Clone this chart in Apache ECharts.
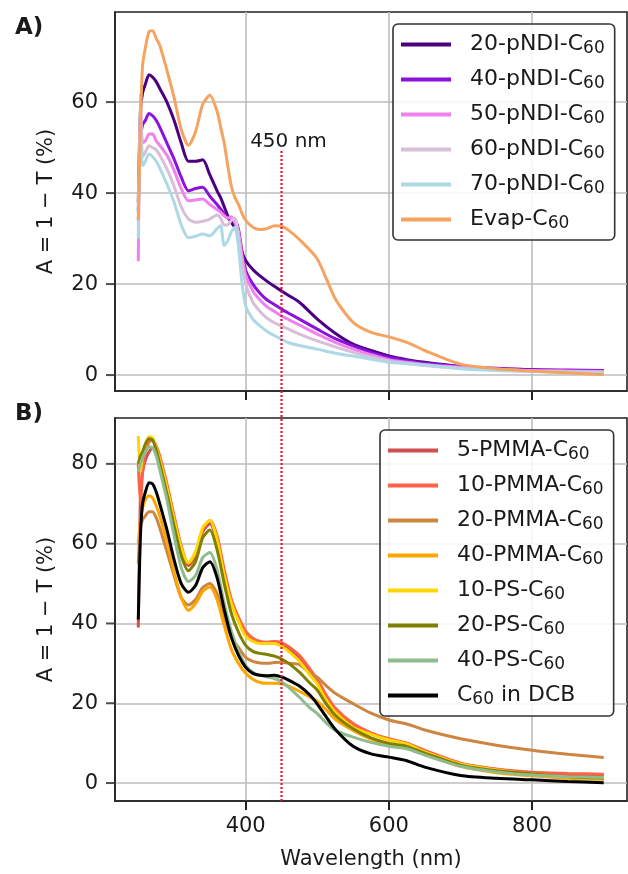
<!DOCTYPE html>
<html>
<head>
<meta charset="utf-8">
<script src="https://cdn.jsdelivr.net/npm/echarts@6/dist/echarts.min.js"></script>
<style>html,body{margin:0;padding:0;background:#fff}#chart{width:628px;height:874px}</style>
</head>
<body>
<div id="chart"></div>
<script>
(function() {
  // wavelengths (nm)
  var wlA = [250,253,256,260,265,270,275,280,290,300,310,320,330,340,350,360,365,370,375,380,385,390,395,400,410,420,430,440,450,460,475,500,525,550,575,600,625,650,700,750,800,850,900];
  var wlB = [250,253,256,260,265,270,275,280,290,300,310,320,330,340,350,360,370,380,390,400,410,420,430,440,450,460,475,490,500,510,525,550,575,600,625,650,700,750,800,850,900];

  // panel A: A = 1 - T (%)
  var pndi20 = [38,58,62,64,66,65.5,64.5,63, 60,56,51,47,47,47.3,44,40.5, 39,37,35,33.5,32.5,30.5,27,25.2, 23.2,21.8,20.6,19.5,18.5,17.5,16, 12.3,9.2,6.8,5.4,4.2,3.4,2.8, 1.9,1.4,1.1,1.0,0.95];
  var pndi40 = [36,52,55,56,57.5,57,56,54.5, 51,47.5,43.5,40.5,41,41.3,39.3,37.5, 36.5,35.5,34.5,34,34,32,27,23, 20,18,16.5,15.5,14.5,13.6,12.3, 10.1,8,6.4,5,3.9,3.2,2.6, 1.9,1.5,1.2,1.1,1.0];
  var pndi50 = [25,60,51,51.5,53,53,51.5,50.5, 48.3,45,41,38.3,38.5,38.7,37.5,36.4, 35.8,35,34.5,34.8,33.5,31.5,26,22, 18.5,16.5,15,14,13,12.2,11, 9,7.2,5.7,4.5,3.4,2.8,2.3, 1.7,1.3,1.0,0.9,0.8];
  var pndi60 = [33,62,48,49,50.4,50,49.5,48.3, 45.3,41.5,37,34.3,33.6,33.8,34.3,35.2, 34.5,33,33,34,34.5,30.5,24.5,20, 16,14,12.5,11.5,10.8,10.1,9, 7.5,6.2,5,4,3.1,2.6,2.1, 1.5,1.1,0.9,0.8,0.7];
  var pndi70 = [30,54,46,47,48.6,48,47,45.5, 42,38,33,30.2,30.5,31,30.6,32.2, 32.8,28.5,29.5,31.5,32.5,28,20,15.2, 12.3,10.8,9.6,8.7,7.9,7.1,6.5, 5.7,4.8,4.2,3.5,2.8,2.5,2.2, 1.4,1.0,0.8,0.6,0.5];
  var evap = [34,55,68,72,75.5,75.7,74,72.5, 67,61,54,50.5,53.5,59.5,61.5,58, 54.5,51,46,41.5,39,37.5,35.5,34, 32.5,32,32.2,32.8,32.7,31.8,29.8, 25.5,16.8,11.6,9.4,8.4,7.2,5.4, 2.4,1.4,0.9,0.5,0.1];

  // panel B
  var pmma5 = [39,72,78,81,83,84,83,80.5, 74,66,58.5,54.5,57,63,65,61, 52.5,45.5,41,37.5,35.8,35.2,35,35, 34.8,33.8,31.5,28,25.5,22.3,18.4, 14.6,12.4,10.9,9.9,8, 4.9,3.4,2.6,2.2,2.0];
  var pmma10 = [80,70,78,83,85.5,86,84.5,82, 75,67,59.5,55,57.5,63.5,65.8,62, 53.5,46,41.5,38,36.3,35.5,35.3,35.5, 35.2,34.2,32,28.5,26,22.8,18.8, 14.9,12.6,11.1,10,8.2, 5,3.5,2.7,2.4,2.2];
  var pmma20 = [55,64,66,67,68,68,66.5,64, 58,52,46.5,44.6,46,49,50,47.5, 41.5,36.5,34,31.5,30.5,30.1,30,30.2, 30.3,30,29.7,27.5,26.5,24.8,22.5, 19.9,17.5,15.8,14.8,13.3, 11.1,9.5,8.2,7.2,6.4];
  var pmma40 = [60,66,69,71,72,71.5,69.5,67, 60.5,53,46.5,43.3,45,48,49.2,46, 39.5,33.5,30,27.5,26,25.2,25,25, 24.9,24.3,23,21.5,20.5,18.8,16, 13.2,11,9.5,8.8,7.2, 4.2,2.6,1.8,1.2,0.9];
  var ps10 = [87,78,82,85,86.8,86.5,84,81, 74,66,59,55.2,58,64,65.8,61, 52,45,40.5,36.8,35.5,35,35,35, 34.3,33,30.5,27,24.8,21.5,17.8, 14,12.2,10.8,9.8,7.8, 4.8,3.3,2.3,1.5,1.0];
  var ps20 = [80,82,83,85,86.3,86,83.5,80, 72.5,64.5,57,53.2,55.5,61.5,63.4,58.5, 50,42.5,37.8,34.5,33,32.5,32.2,31.8, 31.1,30,27.8,25,23.3,20.5,17, 13.6,11.3,9.9,9.2,7.5, 4.5,3.1,2.3,1.6,1.2];
  var ps40 = [78,80,81.5,83,84.3,84,82,78.5, 71,62,54,50.5,52,56.5,57.8,53.5, 45,38,33,29.5,27.8,27,26.6,26.2, 25.4,24,21.5,18.8,17.4,15.5,13.2, 11.5,10.2,9.2,8.6,7, 4.2,2.8,2.0,1.6,1.4];
  var dcb = [41,62,70,73,75.3,75,73,70, 63.5,56,50,47.8,49.5,54,55.5,51.5, 43.5,36.5,32,29,27.5,27,26.9,27, 26.6,25.8,24.3,22,19.8,17.2,13.5, 9.2,7.3,6.5,5.6,4, 1.9,1.2,0.8,0.4,0.1];

  var xTicks = [400, 600, 800];
  var yTicksA = [0, 20, 40, 60];
  var yTicksB = [0, 20, 40, 60, 80];
  var markWl = 450;
  var xMin = 217.5, xMax = 932.5;

  var namesA = ["20-pNDI-C60", "40-pNDI-C60", "50-pNDI-C60", "60-pNDI-C60", "70-pNDI-C60", "Evap-C60"];
  var namesB = ["5-PMMA-C60", "10-PMMA-C60", "20-PMMA-C60", "40-PMMA-C60", "10-PS-C60", "20-PS-C60", "40-PS-C60", "C60 in DCB"];
  var colorsA = ["#4b0082", "#8a12dc", "#ee82ee", "#d8bfd8", "#add8e6", "#f4a460"];
  var colorsB = ["#cd4f4f", "#ff6347", "#cd853f", "#ffa500", "#ffd700", "#808000", "#8fbc8f", "#000000"];
  var dataA = [pndi20, pndi40, pndi50, pndi60, pndi70, evap];
  var dataB = [pmma5, pmma10, pmma20, pmma40, ps10, ps20, ps40, dcb];

  var font = "DejaVu Sans";
  var txt = "#1a1a1a";
  var yName = "A = 1 \u2212 T (%)";

  var myChart = echarts.init(document.getElementById("chart"));

  function mk(name, color, wl, vals, gi) {
    return {
      name: name,
      type: "line",
      xAxisIndex: gi,
      yAxisIndex: gi,
      data: wl.map(function(w, i) { return [w, vals[i]]; }),
      showSymbol: false,
      symbol: "none",
      smooth: 0.25,
      lineStyle: { color: color, width: 3 },
      itemStyle: { color: color },
      emphasis: { disabled: true },
      z: 3
    };
  }

  // outward y tick marks, placed on the axis at each tick value
  function yTickMarks(gi, ticks) {
    return {
      type: "scatter",
      xAxisIndex: gi,
      yAxisIndex: gi,
      data: ticks.map(function(v) { return [xMin, v]; }),
      symbol: "rect",
      symbolSize: [9, 2],
      symbolOffset: [-4.5, 0],
      itemStyle: { color: "#222" },
      clip: false,
      silent: true,
      emphasis: { disabled: true },
      z: 5
    };
  }

  var series = [];
  namesA.forEach(function(n, i) { series.push(mk(n, colorsA[i], wlA, dataA[i], 0)); });
  namesB.forEach(function(n, i) { series.push(mk(n, colorsB[i], wlB, dataB[i], 1)); });
  series.push(yTickMarks(0, yTicksA), yTickMarks(1, yTicksB));

  // dotted 450 nm line across both panels
  series.push({
    type: "line",
    xAxisIndex: 2,
    yAxisIndex: 2,
    data: [[markWl, 0], [markWl, 1]],
    showSymbol: false,
    symbol: "none",
    lineStyle: { color: "#ee1133", width: 2.2, type: [2, 2] },
    emphasis: { disabled: true },
    z: 4,
    markPoint: {
      symbol: "circle",
      symbolSize: 1,
      itemStyle: { color: "transparent" },
      data: [{ coord: [markWl, 1] }],
      label: {
        show: true,
        position: "top",
        distance: 0,
        offset: [7, 2],
        formatter: markWl + " nm",
        color: txt,
        fontFamily: font,
        fontSize: 20
      }
    }
  });

  function xAxis(gi, showLabel) {
    return {
      type: "value",
      gridIndex: gi,
      min: xMin,
      max: xMax,
      name: showLabel ? "Wavelength (nm)" : "",
      nameLocation: "middle",
      nameGap: 48,
      nameTextStyle: { fontFamily: font, fontSize: 21, color: txt },
      axisLine: { show: true, onZero: false, lineStyle: { color: "#222", width: 1.6 } },
      axisTick: { show: true, customValues: xTicks, length: 9, lineStyle: { color: "#222", width: 2 } },
      axisLabel: { show: showLabel, customValues: xTicks, margin: 15, fontFamily: font, fontSize: 21, color: txt },
      splitLine: { show: true, lineStyle: { color: "#bdbdbd", width: 1.6 } }
    };
  }

  function yAxis(gi, min, max, ticks) {
    return {
      type: "value",
      gridIndex: gi,
      min: min,
      max: max,
      axisLine: { show: true, onZero: false, lineStyle: { color: "#222", width: 1.6 } },
      axisTick: { show: false, customValues: ticks },
      axisLabel: { customValues: ticks, margin: 17, fontFamily: font, fontSize: 21, color: txt },
      splitLine: { show: true, lineStyle: { color: "#bdbdbd", width: 1.6 } }
    };
  }

  // second y axis carrying only the axis title
  function yTitle(gi) {
    return {
      type: "value",
      gridIndex: gi,
      position: "left",
      name: yName,
      nameLocation: "middle",
      nameGap: 58,
      nameTextStyle: { fontFamily: font, fontSize: 21, color: txt },
      axisLine: { show: false },
      axisTick: { show: false },
      axisLabel: { show: false },
      splitLine: { show: false }
    };
  }

  function legend(names, left, top) {
    return {
      data: names,
      orient: "vertical",
      left: left,
      top: top,
      padding: [8, 10, 8, 8],
      itemGap: 10,
      itemWidth: 50,
      itemHeight: 4,
      icon: "rect",
      borderColor: "#333",
      borderWidth: 1.6,
      borderRadius: 5,
      backgroundColor: "rgba(255,255,255,0.85)",
      formatter: function(n) { return "  " + n.replace("C60", "C{sub|60}"); },
      textStyle: {
        fontFamily: font, fontSize: 22, color: txt, lineHeight: 24,
        rich: { sub: { fontFamily: font, fontSize: 17, lineHeight: 24, padding: [8, 0, 0, 0], color: txt } }
      }
    };
  }

  var option = {
    animation: false,
    backgroundColor: "#fff",
    title: [
      { text: "A)", left: 10, top: 12, textStyle: { fontFamily: font, fontSize: 23, fontWeight: "bold", color: txt } },
      { text: "B)", left: 10, top: 398, textStyle: { fontFamily: font, fontSize: 23, fontWeight: "bold", color: txt } }
    ],
    grid: [
      { left: 115, right: 1, top: 12, height: 379, show: true, borderColor: "#222", borderWidth: 1.6, backgroundColor: "transparent" },
      { left: 115, right: 1, top: 418, height: 383, show: true, borderColor: "#222", borderWidth: 1.6, backgroundColor: "transparent" },
      { left: 115, right: 1, top: 150, bottom: 73 }
    ],
    xAxis: [
      xAxis(0, false),
      xAxis(1, true),
      { type: "value", gridIndex: 2, min: xMin, max: xMax, show: false }
    ],
    yAxis: [
      yAxis(0, -3.5, 79.8, yTicksA),
      yAxis(1, -4.5, 91.5, yTicksB),
      { type: "value", gridIndex: 2, min: 0, max: 1, show: false },
      yTitle(0),
      yTitle(1)
    ],
    legend: [legend(namesA, 393, 24), legend(namesB, 380, 430)],
    series: series
  };
  myChart.setOption(option);
})();
</script>
</body>
</html>
